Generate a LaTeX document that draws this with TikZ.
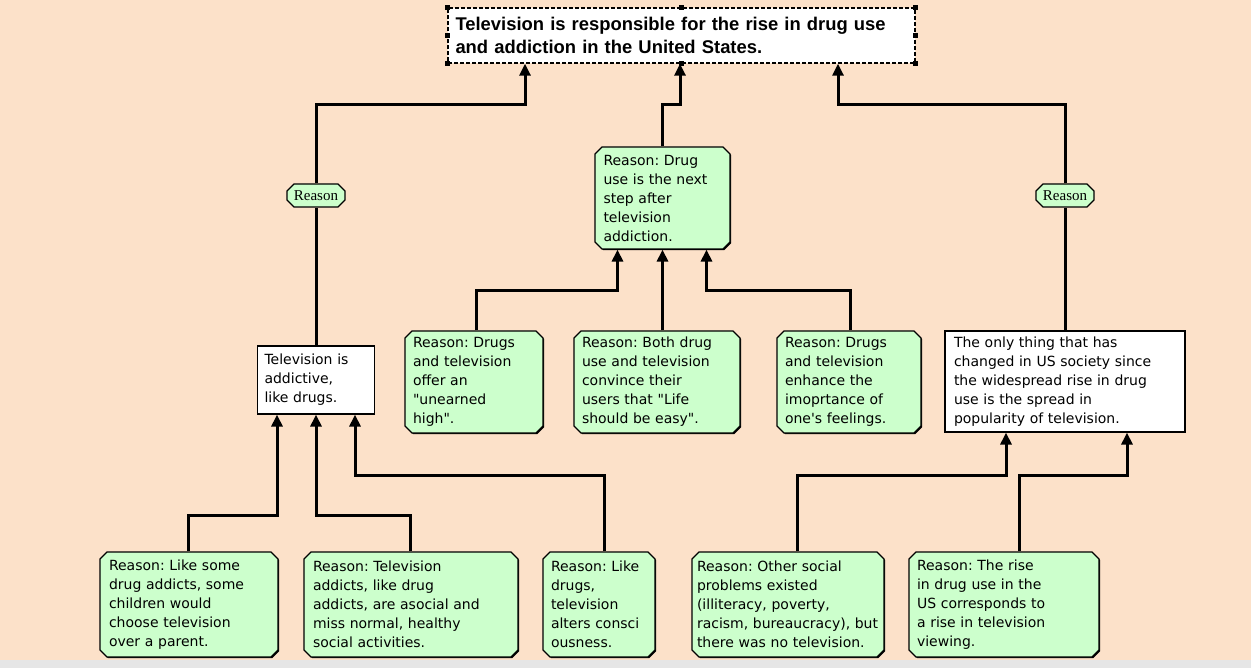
\documentclass[tikz,border=0pt]{standalone}
\usepackage{fontspec}
\newfontfamily\boxfont{DejaVu Sans}
\newfontfamily\titlefont{Liberation Sans}
\newfontfamily\tagfont{Liberation Serif}
\usetikzlibrary{shapes.misc,arrows.meta,shadows}
\definecolor{peach}{HTML}{FCE1C9}
\definecolor{mint}{HTML}{CCFFCC}
\definecolor{bargray}{HTML}{E6E6E6}
\tikzset{>={Triangle[width=11pt,length=12pt]}}
\tikzstyle{reason box}=[chamfered rectangle,chamfered rectangle sep=3.5pt,draw,line width=1.2pt,
  fill=mint,inner sep=0pt,align=left,font=\boxfont\frenchspacing\fontsize{14}{19}\selectfont,
  drop shadow={shadow xshift=1.2pt,shadow yshift=-1.2pt,opacity=1,fill=black}]
\tikzstyle{claim box}=[rectangle,draw,line width=1.2pt,fill=white,inner sep=0pt,align=left,
  font=\boxfont\frenchspacing\fontsize{14}{19}\selectfont]
\tikzstyle{tag}=[chamfered rectangle,chamfered rectangle sep=3.5pt,draw,line width=1.2pt,fill=mint,
  inner sep=0pt,minimum width=58,minimum height=23,font=\tagfont\fontsize{15}{16}\selectfont]
\tikzstyle{link}=[line width=3pt,->]

\begin{document}
\begin{tikzpicture}[x=1pt,y=-1pt]
  % background
  \fill[peach] (0,0) rectangle (1251,660);
  \fill[bargray] (0,660) rectangle (1251,668);
  \useasboundingbox (0,0) rectangle (1251,668);

  % main claim
  \node[rectangle,draw,line width=1.4pt,dash pattern=on 4pt off 2pt,fill=white,inner sep=0pt,
        minimum width=467,minimum height=55,text width=452,align=left,
        font=\titlefont\bfseries\fontsize{18.4}{23}\selectfont] (top) at (681.5,35.5)
    {Television is responsible for the rise in drug use\\and addiction in the United States.};
  \foreach \a in {north west,north,north east,east,south east,south,south west,west}
    \fill (top.\a) ++(-2.5,-2.5) rectangle ++(5,5);

  % second level
  \node[claim box,minimum width=117,minimum height=68,text width=103] (tv) at (316,380)
    {Television is\\addictive,\\like drugs.};
  \node[reason box,minimum width=135,minimum height=102,text width=118] (mid) at (662.5,198)
    {Reason: Drug\\use is the next\\step after\\television\\addiction.};
  \node[claim box,minimum width=240,minimum height=101,text width=222] (only) at (1065,381.5)
    {The only thing that has\\changed in US society since\\the widespread rise in drug\\use is the spread in\\popularity of television.};

  \node[tag] (rsL) at (316,195.5) {Reason};
  \node[tag] (rsR) at (1065,195.5) {Reason};

  % reasons under the middle box
  \node[reason box,minimum width=138,minimum height=102,text width=122] (rA) at (474,382)
    {Reason: Drugs\\and television\\offer an\\"unearned\\high".};
  \node[reason box,minimum width=166,minimum height=102,text width=150] (rB) at (657,382)
    {Reason: Both drug\\use and television\\convince their\\users that "Life\\should be easy".};
  \node[reason box,minimum width=144,minimum height=102,text width=128] (rC) at (849,382)
    {Reason: Drugs\\and television\\enhance the\\imoprtance of\\one's feelings.};

  % bottom row
  \node[reason box,minimum width=178,minimum height=105,text width=160] (rD) at (189,604.5)
    {Reason: Like some\\drug addicts, some\\children would\\choose television\\over a parent.};
  \node[reason box,minimum width=214,minimum height=105,text width=196] (rE) at (411,604.5)
    {Reason: Television\\addicts, like drug\\addicts, are asocial and\\miss normal, healthy\\social activities.};
  \node[reason box,minimum width=112,minimum height=105,text width=96] (rF) at (599,604.5)
    {Reason: Like\\drugs,\\television\\alters consci\\ousness.};
  \node[reason box,minimum width=192,minimum height=105,text width=182] (rG) at (788,604.5)
    {Reason: Other social\\problems existed\\(illiteracy, poverty,\\racism, bureaucracy), but\\there was no television.};
  \node[reason box,minimum width=190,minimum height=105,text width=174] (rH) at (1004,604.5)
    {Reason: The rise\\in drug use in the\\US corresponds to\\a rise in television\\viewing.};

  % bends
  \coordinate (kT1) at (316,105);
  \coordinate (kT2) at (662.5,105);
  \coordinate (kT3) at (1065,105);
  \coordinate (kA) at (476,291);
  \coordinate (kC) at (850,291);
  \coordinate (kD) at (188,515);
  \coordinate (kE) at (410,515);
  \coordinate (kF) at (604,475);
  \coordinate (kG) at (797,475);
  \coordinate (kH) at (1019,475);

  % connectors to the claim
  \draw[line width=3pt] (tv.north) -- (rsL.south);
  \draw[link] (rsL.north) -- (kT1) -| ([xshift=-156.5]top.south);
  \draw[link] (mid.north) -- (kT2) -| ([xshift=-1.5]top.south);
  \draw[line width=3pt] (only.north) -- (rsR.south);
  \draw[link] (rsR.north) -- (kT3) -| ([xshift=156.5]top.south);

  % connectors to the middle reason
  \draw[link] (kA |- rA.north) -- (kA) -| ([xshift=-45]mid.south);
  \draw[link] (mid.south |- rB.north) -- (mid.south);
  \draw[link] (kC |- rC.north) -- (kC) -| ([xshift=44]mid.south);

  % connectors to the two claims
  \draw[link] (kD |- rD.north) -- (kD) -| ([xshift=-39]tv.south);
  \draw[link] (kE |- rE.north) -- (kE) -| (tv.south);
  \draw[link] (kF |- rF.north) -- (kF) -| ([xshift=39]tv.south);
  \draw[link] (kG |- rG.north) -- (kG) -| ([xshift=-59]only.south);
  \draw[link] (kH |- rH.north) -- (kH) -| ([xshift=62]only.south);
\end{tikzpicture}
\end{document}
